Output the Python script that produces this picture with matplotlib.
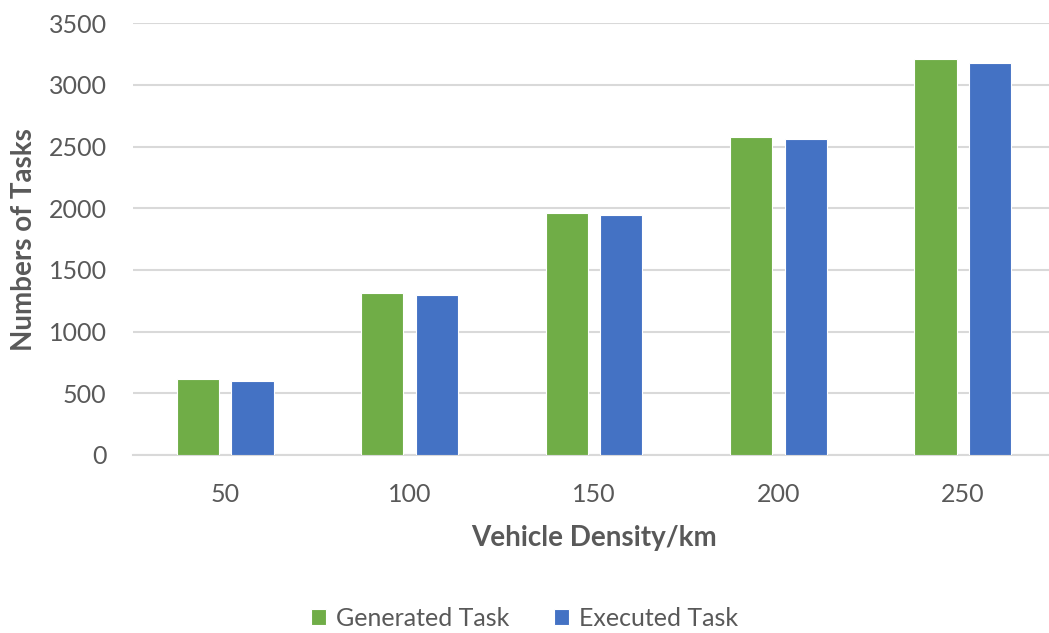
import numpy as np
import matplotlib
matplotlib.use('Agg')
import matplotlib.pyplot as plt

densities = ['50', '100', '150', '200', '250']
generated = [615, 1315, 1960, 2580, 3210]
executed = [600, 1300, 1945, 2560, 3175]

plt.rcParams['font.family'] = ['Lato', 'DejaVu Sans']
text_color = '#595959'

fig = plt.figure(figsize=(10.49, 6.33), dpi=100)
ax = fig.add_axes([133 / 1049, 178 / 633, 922 / 1049, 431.7 / 633])

x = np.arange(len(densities))
w = 0.228
ax.bar(x - 0.148, generated, w, color='#70AD47', edgecolor='white', linewidth=0.8,
       label='Generated Task', zorder=3)
ax.bar(x + 0.148, executed, w, color='#4472C4', edgecolor='white', linewidth=0.8,
       label='Executed Task', zorder=3)

ax.set_xlim(-0.5, 4.5)
ax.set_ylim(0, 3500)
ax.set_yticks(range(0, 3501, 500))
ax.set_xticks(x)
ax.set_xticklabels(densities)
ax.yaxis.grid(True, color='#D9D9D9', linewidth=1.5, zorder=0)
ax.set_axisbelow(True)
for s in ['top', 'right', 'left']:
    ax.spines[s].set_visible(False)
ax.spines['bottom'].set_color('#D9D9D9')
ax.spines['bottom'].set_linewidth(1.5)
ax.tick_params(axis='both', length=0, labelsize=18, colors=text_color)
ax.tick_params(axis='y', pad=19)
ax.tick_params(axis='x', pad=20)

ax.set_xlabel('Vehicle Density/km', fontsize=20, fontweight='bold', color=text_color, labelpad=14)
ax.set_ylabel('Numbers of Tasks', fontsize=20, fontweight='bold', color=text_color, labelpad=8)

fig.legend(loc='center', bbox_to_anchor=(0.5, 1 - 618 / 633), ncol=2, frameon=False,
           fontsize=18, labelcolor=text_color, handlelength=0.6, handleheight=0.6,
           handletextpad=0.4, columnspacing=1.8)

fig.savefig('out.png', dpi=100)
